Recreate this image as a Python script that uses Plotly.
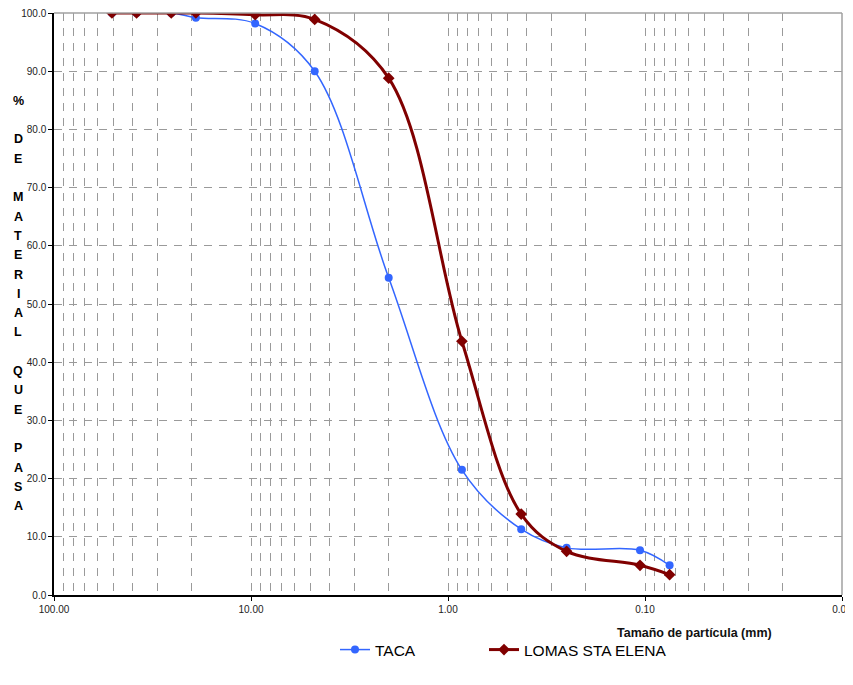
import plotly.graph_objects as go

# Data
sieve_mm = [50.8, 38.1, 25.4, 19.05, 9.525, 4.75, 2.0, 0.85, 0.425, 0.25, 0.106, 0.075]
taca = [100.0, 100.0, 100.0, 99.2, 98.2, 90.0, 54.5, 21.5, 11.3, 8.1, 7.7, 5.1]
lomas = [100.0, 100.0, 100.0, 100.0, 99.7, 98.9, 88.8, 43.6, 13.9, 7.5, 5.1, 3.5]
x_tickvals = [100, 10, 1, 0.1, 0.01]
x_ticktext = ["100.00", "10.00", "1.00", "0.10", "0.01"]
y_title = "% DE MATERIAL QUE PASA"
x_title = "Tamaño de partícula (mm)"

# page has an 8px body margin; work in screen pixels and offset
OFF = 8
W, H = 853 - OFF, 685 - OFF
PLOT_L, PLOT_R, PLOT_T, PLOT_B = 54, 842, 13, 595  # screen px
ML = PLOT_L - OFF
MT = PLOT_T - OFF
MR = W - (PLOT_R - OFF)
MB = H - (PLOT_B - OFF)
PW = PLOT_R - PLOT_L
PH = PLOT_B - PLOT_T


def px_x(sx):
    return (sx - PLOT_L) / PW


def px_y(sy):
    return (PLOT_B - sy) / PH


minor_vals = [m * 10 ** e for e in range(-2, 2) for m in range(2, 10)]

fig = go.Figure()
fig.add_trace(go.Scatter(
    x=sieve_mm, y=taca, name="TACA", mode="lines+markers",
    line=dict(color="#3366FF", width=1.5, shape="spline", smoothing=1.0),
    marker=dict(symbol="circle", size=8, color="#3366FF"),
    legend="legend",
))
fig.add_trace(go.Scatter(
    x=sieve_mm, y=lomas, name="LOMAS STA ELENA", mode="lines+markers",
    line=dict(color="#800000", width=3, shape="spline", smoothing=1.0),
    marker=dict(symbol="diamond", size=9, color="#800000"),
    legend="legend2",
))

grid_col = "#9a9a9a"
fig.update_xaxes(
    type="log", range=[2, -2], automargin=False, ticklabeloverflow="allow",
    tickvals=x_tickvals, ticktext=x_ticktext,
    showgrid=True, gridcolor=grid_col, griddash="8px,7px", gridwidth=1,
    minor=dict(tickvals=minor_vals, showgrid=True, gridcolor=grid_col,
               griddash="8px,7px", gridwidth=1, ticks=""),
    showline=True, linecolor="black", linewidth=1.5,
    ticks="outside", ticklen=4, tickcolor="black",
    tickfont=dict(family="Liberation Sans, Arial", size=10, color="#222"),
    zeroline=False,
)
fig.update_yaxes(
    range=[0, 100], dtick=10, tick0=0, tickformat=".1f", automargin=False,
    ticklabeloverflow="allow",
    showgrid=True, gridcolor=grid_col, griddash="8px,7px", gridwidth=1,
    showline=True, linecolor="black", linewidth=1.5,
    ticks="outside", ticklen=4, tickcolor="black",
    tickfont=dict(family="Liberation Sans, Arial", size=10, color="#222"),
    zeroline=False,
)

# top and right border (grey)
fig.add_shape(type="line", xref="paper", yref="paper", x0=0, x1=1, y0=1, y1=1,
              line=dict(color="#a0a0a0", width=1.5))
fig.add_shape(type="line", xref="paper", yref="paper", x0=1, x1=1, y0=0, y1=1,
              line=dict(color="#a0a0a0", width=1.5))

# stacked y title
chars = list(y_title)
step = 19.3
center_px = 303.5
n = len(chars)
for i, ch in enumerate(chars):
    if ch == " ":
        continue
    ypx = center_px + (i - (n - 1) / 2) * step
    fig.add_annotation(
        x=px_x(18), xref="paper", y=px_y(ypx), yref="paper",
        text="<b>" + ch + "</b>", showarrow=False,
        xanchor="center", yanchor="middle",
        font=dict(family="Liberation Sans, Arial", size=12.5, color="black"),
    )

fig.add_annotation(
    x=px_x(694), xref="paper", y=px_y(633), yref="paper",
    text="<b>" + x_title + "</b>", showarrow=False,
    xanchor="center", yanchor="middle",
    font=dict(family="Liberation Sans, Arial", size=12.5, color="#111"),
)

leg_font = dict(family="Liberation Sans, Arial", size=15.5, color="black")
fig.update_layout(
    width=W, height=H,
    margin=dict(l=ML, r=MR, t=MT, b=MB, autoexpand=False),
    paper_bgcolor="white", plot_bgcolor="white",
    showlegend=True,
    legend=dict(
        orientation="h", x=px_x(335), xanchor="left",
        y=px_y(650), yanchor="middle",
        font=leg_font, bgcolor="rgba(0,0,0,0)",
    ),
    legend2=dict(
        orientation="h", x=px_x(484), xanchor="left",
        y=px_y(650), yanchor="middle",
        font=leg_font, bgcolor="rgba(0,0,0,0)",
    ),
)

fig.write_html("out.html")
